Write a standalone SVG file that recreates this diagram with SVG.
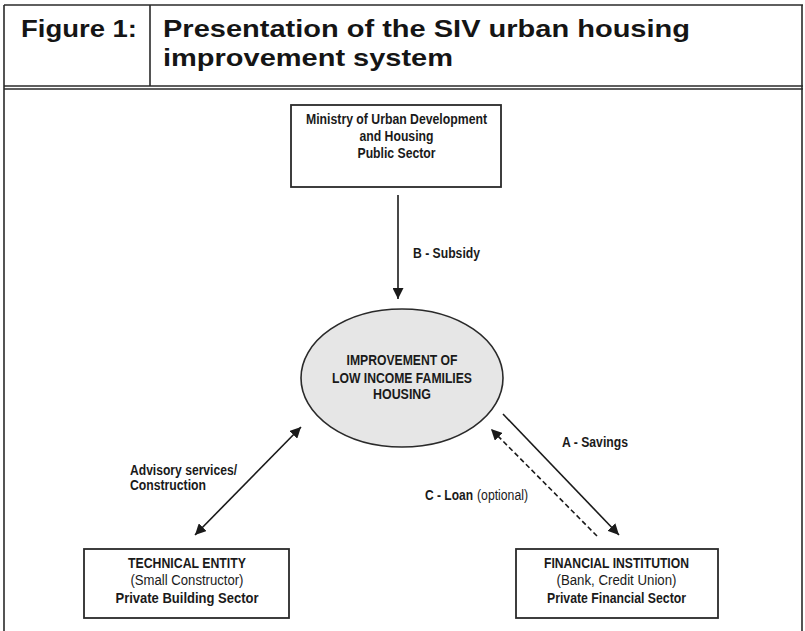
<svg xmlns="http://www.w3.org/2000/svg" width="805" height="631" viewBox="0 0 805 631">
  <style>
    .frame { stroke: #2a2a2a; stroke-width: 1.6; fill: none; }
    .hdr { font-family: "Liberation Sans", Arial, Helvetica, sans-serif; font-weight: bold; font-size: 24px; fill: #151515; }
    .box { fill: #ffffff; stroke: #2a2a2a; stroke-width: 1.8; }
    .ell { fill: #e6e6e6; stroke: #2a2a2a; stroke-width: 1.6; }
    .t { font-family: "Liberation Sans Narrow", "Liberation Sans", Arial, sans-serif; font-size: 14px; fill: #1a1a1a; }
    .b { font-weight: bold; }
    .r { font-weight: normal; }
    .c { text-anchor: middle; }
    .ln { stroke: #1a1a1a; stroke-width: 1.6; fill: none; }
    .dash { stroke-dasharray: 5 3; }
  </style>
  <defs>
    <marker id="ah" viewBox="0 0 10 10" refX="10" refY="5" markerWidth="11" markerHeight="11" markerUnits="userSpaceOnUse" orient="auto-start-reverse">
      <path d="M0,0 L10,5 L0,10 z" fill="#1a1a1a"/>
    </marker>
  </defs>

  <rect width="805" height="631" fill="#ffffff"/>

  <g id="frame">
    <line class="frame" x1="4" y1="5" x2="803" y2="5"/>
    <line class="frame" x1="4" y1="5" x2="4" y2="631"/>
    <line class="frame" x1="802" y1="5" x2="802" y2="631"/>
    <line class="frame" x1="150" y1="5" x2="150" y2="86"/>
    <line class="frame" x1="4" y1="86" x2="803" y2="86"/>
    <line class="frame" x1="4" y1="89" x2="803" y2="89"/>
  </g>

  <g id="header">
    <text class="hdr" x="21" y="37" textLength="116" lengthAdjust="spacingAndGlyphs">Figure 1:</text>
    <text class="hdr" x="163" y="37" textLength="527" lengthAdjust="spacingAndGlyphs">Presentation of the SIV urban housing</text>
    <text class="hdr" x="163" y="66" textLength="290" lengthAdjust="spacingAndGlyphs">improvement system</text>
  </g>

  <g id="connectors">
    <line class="ln" x1="398" y1="195" x2="398" y2="299" marker-end="url(#ah)"/>
    <line class="ln" x1="195" y1="535" x2="301" y2="427" marker-start="url(#ah)" marker-end="url(#ah)"/>
    <line class="ln" x1="503" y1="414" x2="619" y2="535" marker-end="url(#ah)"/>
    <line class="ln dash" x1="597" y1="536" x2="491" y2="429" marker-end="url(#ah)"/>
    <text class="t b" x="413" y="258" textLength="67" lengthAdjust="spacingAndGlyphs">B - Subsidy</text>
    <text class="t b" x="130" y="475" textLength="107" lengthAdjust="spacingAndGlyphs">Advisory services/</text>
    <text class="t b" x="130" y="490" textLength="76" lengthAdjust="spacingAndGlyphs">Construction</text>
    <text class="t b" x="562" y="447" textLength="66" lengthAdjust="spacingAndGlyphs">A - Savings</text>
    <text class="t b" x="425" y="500" textLength="48" lengthAdjust="spacingAndGlyphs">C - Loan</text>
    <text class="t r" x="477" y="500" textLength="51" lengthAdjust="spacingAndGlyphs">(optional)</text>
  </g>

  <g id="ministry">
    <rect class="box" x="291" y="105" width="210" height="82"/>
    <text class="t b c" x="396.5" y="124" textLength="181" lengthAdjust="spacingAndGlyphs">Ministry of Urban Development</text>
    <text class="t b c" x="396.5" y="141" textLength="74" lengthAdjust="spacingAndGlyphs">and Housing</text>
    <text class="t b c" x="396.5" y="158" textLength="78" lengthAdjust="spacingAndGlyphs">Public Sector</text>
  </g>

  <g id="improvement">
    <ellipse class="ell" cx="402" cy="378" rx="101" ry="69"/>
    <text class="t b c" x="402" y="365" textLength="111" lengthAdjust="spacingAndGlyphs">IMPROVEMENT OF</text>
    <text class="t b c" x="402" y="382.5" textLength="140" lengthAdjust="spacingAndGlyphs">LOW INCOME FAMILIES</text>
    <text class="t b c" x="402" y="399" textLength="58" lengthAdjust="spacingAndGlyphs">HOUSING</text>
  </g>

  <g id="technical">
    <rect class="box" x="84" y="549" width="205" height="69"/>
    <text class="t b c" x="187" y="568" textLength="118" lengthAdjust="spacingAndGlyphs">TECHNICAL ENTITY</text>
    <text class="t r c" x="187" y="585" textLength="113" lengthAdjust="spacingAndGlyphs">(Small Constructor)</text>
    <text class="t b c" x="187" y="603" textLength="143" lengthAdjust="spacingAndGlyphs">Private Building Sector</text>
  </g>

  <g id="financial">
    <rect class="box" x="516" y="549" width="202" height="69"/>
    <text class="t b c" x="616.5" y="568" textLength="145" lengthAdjust="spacingAndGlyphs">FINANCIAL INSTITUTION</text>
    <text class="t r c" x="616.5" y="585" textLength="120" lengthAdjust="spacingAndGlyphs">(Bank, Credit Union)</text>
    <text class="t b c" x="616.5" y="603" textLength="139" lengthAdjust="spacingAndGlyphs">Private Financial Sector</text>
  </g>
</svg>
